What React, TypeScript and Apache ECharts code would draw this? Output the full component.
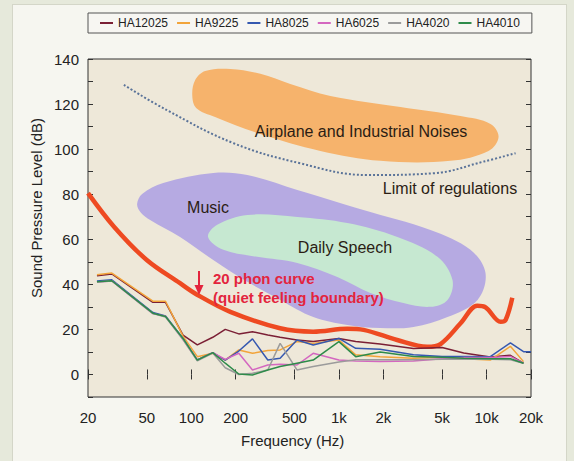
import React, { useEffect, useRef } from 'react';
import * as echarts from 'echarts';

const FONT = "'Liberation Sans', Arial, Helvetica, sans-serif";

// Legend series
const seriesNames = ['HA12025', 'HA9225', 'HA8025', 'HA6025', 'HA4020', 'HA4010'];
const seriesColors = ['#7b1f35', '#f2a43a', '#3558b0', '#d467c0', '#9b9b9b', '#2e8b4a'];

// Measurement frequencies (Hz)
const freqs = [23, 29, 55, 67, 88, 110, 140, 170, 210, 260, 330, 400, 520, 670, 1000, 1300, 1900, 3200, 5000, 7000, 10600, 14500, 17800, 20000];

const ha12025 = [43.8, 44.6, 32, 32, 17.5, 13.1, 16.5, 20, 18, 19, 17.5, 16.5, 15.3, 14.6, 16, 14.6, 13.5, 11.5, 12, 9.5, 7.8, 8.5, 5, null];
const ha9225 = [44.3, 45, 32.5, 32.5, 17, 7.9, 9.4, 6.4, 10.9, 9.4, 10.6, 10.9, 14.6, 13.8, 15.3, 8.7, 7.9, 7.2, 7.6, 7, 6.4, 12.5, 5.7, null];
const ha8025 = [41.5, 42, 27.5, 26, 16, 6.4, 9.7, 6.4, 10.4, 15.8, 6.4, 7.2, 15.3, 13.1, 16, 11.6, 11.2, 8.7, 8, 8, 7.9, 14, 10.1, 10.1];
const ha6025 = [41, 41.5, 27, 25.8, 15.5, 6.4, 9.7, 6.7, 9.4, 2, 4.2, 4.5, 4.2, 9.4, 6.4, 6, 5.7, 6, 7, 7.5, 7.5, 8, 5, null];
const ha4020 = [41, 41.5, 27, 25.5, 15.5, 6, 9.5, 3, 0, 0.5, 2, 13.8, 2, 3.5, 5.5, 6.5, 6.5, 6.5, 6.8, 6.8, 6.8, 6.5, 5, null];
const ha4010 = [41.2, 41.6, 27.2, 25.7, 16, 6.4, 9.7, 5, 0.2, -0.2, 2, 3.5, 5, 6.4, 14.6, 7.9, 10, 8, 7.6, 7.2, 7, 7, 5, null];
const seriesValues = [ha12025, ha9225, ha8025, ha6025, ha4020, ha4010];

// 20 phon curve
const phonFreqs = [20, 30, 50, 84, 109, 184, 400, 670, 1140, 1470, 2480, 3960, 4880, 6670, 8650, 9850, 12450, 13460, 14940];
const phonLevels = [80.5, 65.6, 50.8, 40.5, 35.5, 27.8, 20.5, 19, 20.3, 19.8, 15.3, 12.3, 13.5, 22.7, 30.5, 29.8, 23.4, 24.2, 34];

// Limit of regulations
const limitFreqs = [35, 68, 194, 548, 1554, 4392, 9594, 15730];
const limitLevels = [128.5, 117.4, 102.6, 93.7, 88.5, 89.3, 94.5, 98.2];

// Region outlines [Hz, dB]
const airplaneOutline = [
  [101.6, 124.1], [106.4, 130.7], [124.4, 134.7], [184, 135.6], [294, 133.4], [469, 128.9], [876, 123.6], [2612, 118.7],
  [6660, 114.7], [10640, 111.2], [12060, 105.4], [10316, 99.2], [5700, 94.8], [1910, 94.8], [749, 99.2],
  [294, 106.7], [145, 114.3], [108, 118.3],
];
const musicOutline = [
  [43, 75.6], [46.5, 80.1], [64.6, 85], [141, 89.4], [240, 88.5], [523, 81.9], [1466, 73], [4170, 64.1], [7780, 55.3],
  [9840, 45], [8690, 33.1], [5440, 25.5], [3200, 21.1], [1910, 20.6], [1142, 22], [671, 25.5], [401, 33.1],
  [240, 41.1], [141, 50.8], [84, 61], [52.7, 68.6], [45.8, 71.7],
];
const speechOutline = [
  [130, 61], [150, 66.4], [240, 70.8], [523, 69.9], [1142, 67.2], [2490, 61], [4650, 52.2], [5880, 41.9],
  [5440, 33.1], [4170, 30], [2736, 31.7], [1635, 36.2], [977, 43.3], [523, 49.5], [280, 52.2], [165, 55.3],
];

const xTickValues = [20, 50, 100, 200, 500, 1000, 2000, 5000, 10000, 20000];
const yMin = -10;
const yMax = 140;
const yStep = 10;

const lg = (f: number) => Math.log10(f);
const fmtFreq = (v: number) => {
  const f = Math.round(Math.pow(10, v));
  return f >= 1000 ? f / 1000 + 'k' : String(f);
};

function blob(name: string, outline: number[][], color: string) {
  return {
    type: 'custom',
    name,
    silent: true,
    z: 1,
    data: outline.map(([f, v]) => [lg(f), v]),
    encode: { x: 0, y: 1 },
    renderItem: (params: any, api: any) => {
      if (params.dataIndex !== 0) return { type: 'group', children: [] };
      const pts = outline.map(([f, v]) => api.coord([lg(f), v]));
      return { type: 'polygon', shape: { points: pts, smooth: 0.35 }, style: { fill: color } };
    },
  };
}

export default function App() {
  const ref = useRef<HTMLDivElement>(null);
  useEffect(() => {
    if (!ref.current) return;
    const chart = echarts.init(ref.current, undefined, { renderer: 'svg' });
    const xCommon = {
      type: 'value',
      min: lg(20),
      max: lg(20000),
      splitLine: { show: false },
      axisLine: { show: false },
      axisTick: { show: true, inside: true, length: 5, customValues: xTickValues.map(lg), lineStyle: { color: '#333' } },
    };
    const yCommon = {
      type: 'value',
      min: yMin,
      max: yMax,
      interval: yStep,
      splitLine: { show: false },
      axisLine: { show: false },
      axisTick: { show: true, inside: true, length: 5, lineStyle: { color: '#333' } },
    };
    const option: any = {
      animation: false,
      backgroundColor: 'transparent',
      textStyle: { fontFamily: FONT },
      grid: { left: 88, right: 43, top: 59, bottom: 64, show: true, borderColor: '#333', borderWidth: 1, backgroundColor: '#eee8d9' },
      legend: {
        data: seriesNames,
        left: 88,
        top: 13,
        padding: [4, 12],
        itemGap: 9,
        itemWidth: 13,
        itemHeight: 2,
        icon: 'rect',
        backgroundColor: '#f7f6f2',
        borderColor: '#555',
        borderWidth: 1,
        textStyle: { fontSize: 12, color: '#222', fontFamily: FONT },
      },
      xAxis: [
        {
          ...xCommon,
          position: 'bottom',
          axisLabel: { show: true, customValues: xTickValues.map(lg), formatter: fmtFreq, fontSize: 15, color: '#222', margin: 13, fontFamily: FONT },
        },
        { ...xCommon, position: 'top', axisLabel: { show: false } },
      ],
      yAxis: [
        {
          ...yCommon,
          position: 'left',
          axisLabel: {
            show: true,
            fontSize: 15,
            color: '#222',
            margin: 9,
            fontFamily: FONT,
            formatter: (v: number) => (v >= 0 && v % 20 === 0 ? String(v) : ''),
          },
        },
        { ...yCommon, position: 'right', axisLabel: { show: false } },
      ],
      graphic: [
        { type: 'text', left: 241, top: 433, style: { text: 'Frequency (Hz)', fontSize: 15, fill: '#222', fontFamily: FONT } },
        {
          type: 'text', x: 36, y: 208, rotation: Math.PI / 2,
          style: { text: 'Sound Pressure Level (dB)', fontSize: 15, fill: '#222', fontFamily: FONT, align: 'center', verticalAlign: 'middle' },
        },
        { type: 'text', x: 361, y: 131, z: 50, style: { text: 'Airplane and Industrial Noises', fontSize: 16, fill: '#2b1d14', fontFamily: FONT, align: 'center', verticalAlign: 'middle' } },
        { type: 'text', x: 450, y: 188, z: 50, style: { text: 'Limit of regulations', fontSize: 16, fill: '#2b1d14', fontFamily: FONT, align: 'center', verticalAlign: 'middle' } },
        { type: 'text', x: 208, y: 207, z: 50, style: { text: 'Music', fontSize: 16, fill: '#2b1d14', fontFamily: FONT, align: 'center', verticalAlign: 'middle' } },
        { type: 'text', x: 345, y: 247, z: 50, style: { text: 'Daily Speech', fontSize: 16, fill: '#2b1d14', fontFamily: FONT, align: 'center', verticalAlign: 'middle' } },
        { type: 'text', x: 213, y: 278, z: 50, style: { text: '20 phon curve', fontSize: 15, fontWeight: 'bold', fill: '#e3243d', fontFamily: FONT, align: 'left', verticalAlign: 'middle' } },
        { type: 'text', x: 213, y: 297, z: 50, style: { text: '(quiet feeling boundary)', fontSize: 15, fontWeight: 'bold', fill: '#e3243d', fontFamily: FONT, align: 'left', verticalAlign: 'middle' } },
        { type: 'line', z: 50, shape: { x1: 199, y1: 271, x2: 199, y2: 287 }, style: { stroke: '#e3243d', lineWidth: 2 } },
        { type: 'polygon', z: 50, shape: { points: [[194.5, 285], [203.5, 285], [199, 295]] }, style: { fill: '#e3243d' } },
      ],
      series: [
        blob('airplane', airplaneOutline, '#f6b36c'),
        blob('music', musicOutline, '#b6aae2'),
        blob('speech', speechOutline, '#c6e8d1'),
        {
          type: 'line', name: 'limit', z: 2, symbol: 'none', smooth: 0.4, silent: true,
          data: limitFreqs.map((f, i) => [lg(f), limitLevels[i]]),
          lineStyle: { color: '#5a7399', width: 2, type: [2, 2] },
        },
        {
          type: 'line', name: '20 phon', z: 3, symbol: 'none', smooth: 0.35, silent: true,
          data: phonFreqs.map((f, i) => [lg(f), phonLevels[i]]),
          lineStyle: { color: '#ee4a22', width: 4.5 },
        },
        ...seriesNames.map((name, k) => ({
          type: 'line', name, z: 4, symbol: 'none',
          data: freqs.map((f, i) => [lg(f), seriesValues[k][i]]).filter((d) => d[1] !== null),
          lineStyle: { color: seriesColors[k], width: 1.5 },
          itemStyle: { color: seriesColors[k] },
        })),
      ],
    };
    chart.setOption(option);
    return () => chart.dispose();
  }, []);
  return (
    <div style={{ position: 'absolute', left: 0, top: 0, width: 574, height: 461, background: '#e6e9db', overflow: 'hidden' }}>
      <div style={{ position: 'absolute', left: 12, top: 4, width: 555, height: 470, background: '#f6f6f0', border: '1px solid #d4d6c8', boxSizing: 'border-box' }} />
      <div ref={ref} style={{ position: 'absolute', left: 0, top: 0, width: 574, height: 461 }} />
    </div>
  );
}
